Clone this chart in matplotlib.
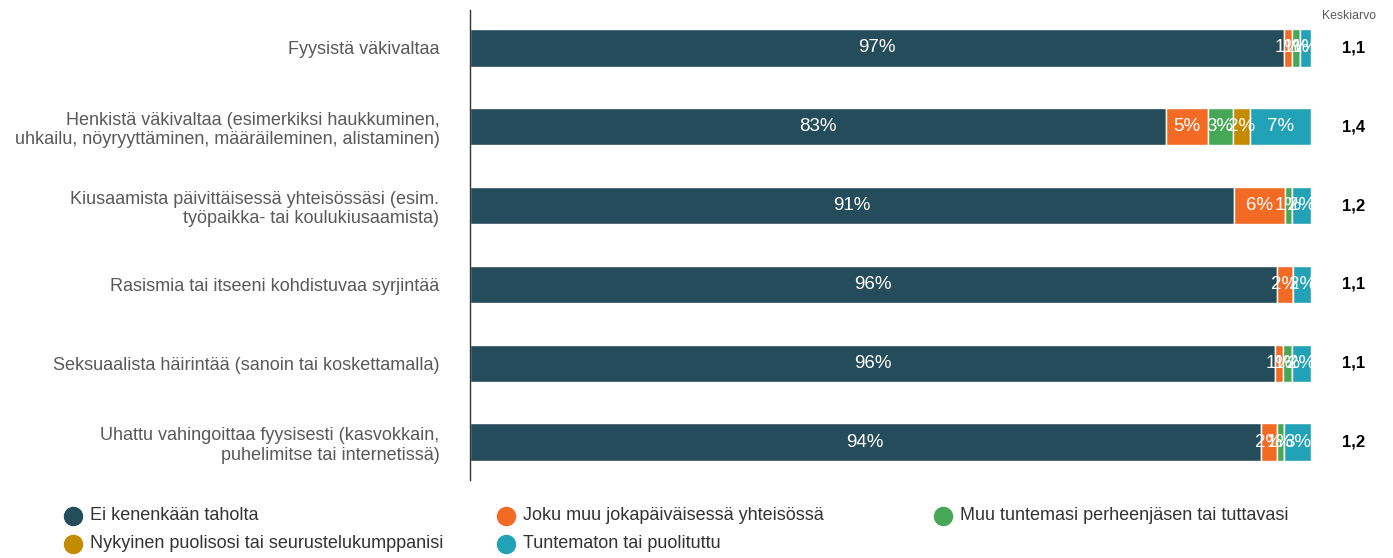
import matplotlib
matplotlib.use("Agg")
import matplotlib.pyplot as plt
import matplotlib.transforms as mtransforms
from matplotlib.lines import Line2D
import numpy as np

plt.rcParams['font.family'] = ['Liberation Sans', 'DejaVu Sans']

categories = [
    "Fyysistä väkivaltaa",
    "Henkistä väkivaltaa (esimerkiksi haukkuminen,\nuhkailu, nöyryyttäminen, määräileminen, alistaminen)",
    "Kiusaamista päivittäisessä yhteisössäsi (esim.\ntyöpaikka- tai koulukiusaamista)",
    "Rasismia tai itseeni kohdistuvaa syrjintää",
    "Seksuaalista häirintää (sanoin tai koskettamalla)",
    "Uhattu vahingoittaa fyysisesti (kasvokkain,\npuhelimitse tai internetissä)",
]
series_names = [
    "Ei kenenkään taholta",
    "Joku muu jokapäiväisessä yhteisössä",
    "Muu tuntemasi perheenjäsen tai tuttavasi",
    "Nykyinen puolisosi tai seurustelukumppanisi",
    "Tuntematon tai puolituttu",
]
ei_kenenkaan = [96.8, 82.8, 90.9, 95.9, 95.7, 94.0]
joku_muu = [0.9, 4.9, 6.0, 2.0, 1.0, 1.9]
muu_tuntemasi = [1.0, 3.0, 0.8, 0.0, 1.0, 0.9]
nykyinen_puoliso = [0.0, 2.0, 0.0, 0.0, 0.0, 0.0]
tuntematon = [1.3, 7.3, 2.3, 2.1, 2.3, 3.2]
keskiarvo = ["1,1", "1,4", "1,2", "1,1", "1,1", "1,2"]

colors = ["#244C5A", "#F26A24", "#46A856", "#C48A00", "#22A2B6"]

series = [ei_kenenkaan, joku_muu, muu_tuntemasi, nykyinen_puoliso, tuntematon]

fig = plt.figure(figsize=(13.93, 5.58), dpi=100)
ax = fig.add_axes([470/1393, 1-480/558, (1311-470)/1393, 470/558])

y = np.arange(len(categories))
left = np.zeros(len(categories))
for name, vals, col in zip(series_names, series, colors):
    vals = np.array(vals, dtype=float)
    ax.barh(y, vals, left=left, height=0.47, color=col, edgecolor="white",
            linewidth=1, label=name)
    for yi, (l, v) in enumerate(zip(left, vals)):
        if v > 0:
            ax.text(l + v/2, yi, f"{int(round(v))}%", ha="center", va="center",
                    color="white", fontsize=13.5)
    left += vals

ax.set_xlim(0, 100)
ax.set_ylim(len(categories) - 1 + 0.482, -0.482)
ax.set_yticks(y)
ax.set_yticklabels(categories, fontsize=13, color="#595959")
ax.tick_params(axis="y", length=0, pad=22)
ax.tick_params(axis="x", length=0, labelbottom=False)
for s in ["top", "right", "bottom"]:
    ax.spines[s].set_visible(False)
ax.spines["left"].set_color("#333333")
ax.spines["left"].set_linewidth(1)

trans = mtransforms.blended_transform_factory(fig.transFigure, ax.transData)
for yi, m in enumerate(keskiarvo):
    ax.text(1354/1393, y[yi], m, transform=trans,
            ha="center", va="center", fontsize=12, fontweight="bold", color="#000000")
fig.text(1349/1393, 1-16/558, "Keskiarvo", ha="center", va="center", fontsize=8.8, color="#595959")

leg_pos = [(73, 516), (506, 516), (943, 516), (73, 544), (506, 544)]
for (px, py), name, col in zip(leg_pos, series_names, colors):
    fig.add_artist(Line2D([px/1393], [1-py/558], marker="o", markersize=13,
                          color=col, linestyle="none", transform=fig.transFigure))
    fig.text((px+17)/1393, 1-py/558, name, ha="left", va="center", fontsize=13, color="#333333")

fig.savefig("out.png", dpi=100)
